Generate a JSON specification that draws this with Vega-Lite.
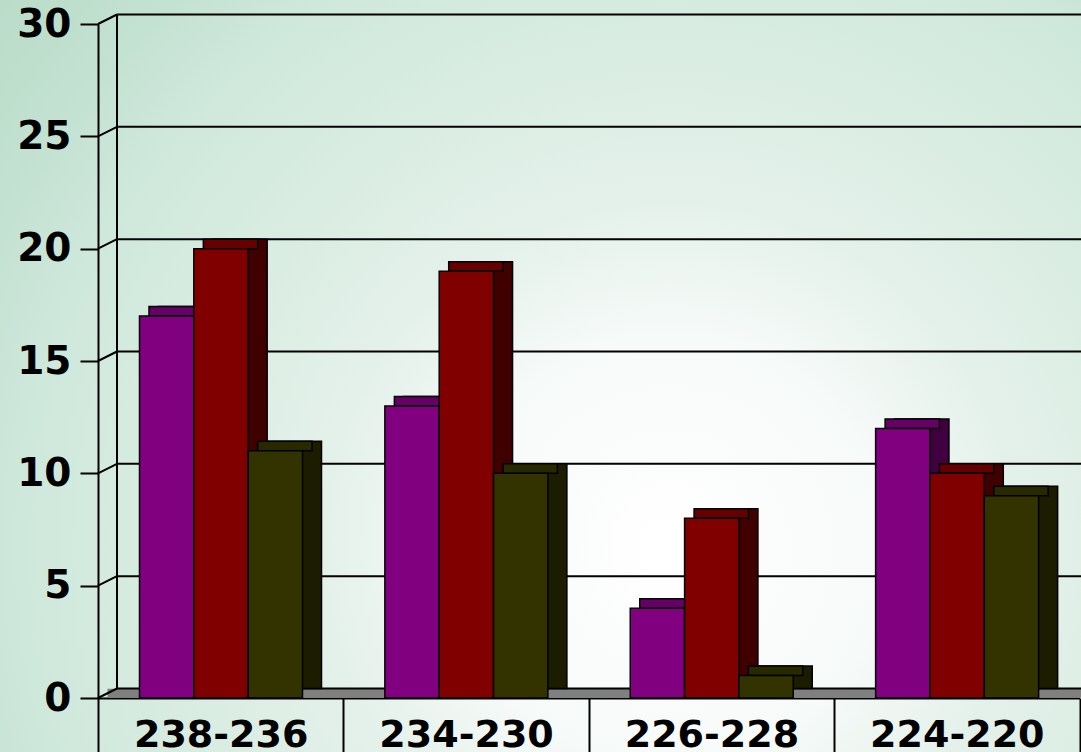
{
  "$schema": "https://vega.github.io/schema/vega-lite/v6.json",
  "width": 1081,
  "height": 752,
  "autosize": "none",
  "padding": 0,
  "background": "#d5eadf",
  "config": {
    "view": {
      "stroke": null,
      "fill": {
        "gradient": "radial",
        "x1": 0.62, "y1": 0.66, "r1": 0,
        "x2": 0.62, "y2": 0.66, "r2": 0.8,
        "stops": [
          {"offset": 0, "color": "#ffffff"},
          {"offset": 0.25, "color": "#f6faf8"},
          {"offset": 0.4, "color": "#e4f1ea"},
          {"offset": 0.6, "color": "#d8ece1"},
          {"offset": 0.75, "color": "#cfe8dc"},
          {"offset": 0.85, "color": "#c4e2d2"},
          {"offset": 1, "color": "#badcc8"}
        ]
      }
    }
  },
  "datasets": {
    "bars": [
      {"cat": "238-236", "series": "A", "value": 17},
      {"cat": "238-236", "series": "B", "value": 20},
      {"cat": "238-236", "series": "C", "value": 11},
      {"cat": "234-230", "series": "A", "value": 13},
      {"cat": "234-230", "series": "B", "value": 19},
      {"cat": "234-230", "series": "C", "value": 10},
      {"cat": "226-228", "series": "A", "value": 4},
      {"cat": "226-228", "series": "B", "value": 8},
      {"cat": "226-228", "series": "C", "value": 1},
      {"cat": "224-220", "series": "A", "value": 12},
      {"cat": "224-220", "series": "B", "value": 10},
      {"cat": "224-220", "series": "C", "value": 9}
    ],
    "grid": [
      {"v": 0}, {"v": 5}, {"v": 10}, {"v": 15}, {"v": 20}, {"v": 25}, {"v": 30}
    ],
    "one": [{"k": 1}]
  },
  "layer": [
    {
      "data": {"name": "one"},
      "mark": {"type": "rule", "color": "#808080", "strokeWidth": 9, "yOffset": -4.75, "xOffset": 9.5, "x2Offset": 19},
      "encoding": {
        "x": {"datum": "238-236", "type": "nominal", "bandPosition": 0,
              "scale": {"domain": ["238-236", "234-230", "226-228", "224-220"], "range": [98, 1079.5], "paddingInner": 0, "paddingOuter": 0},
              "axis": {"orient": "bottom", "offset": -54, "title": null, "domainColor": "#000000", "domainWidth": 2,
                       "tickBand": "extent", "tickSize": 54, "tickColor": "#000000", "tickWidth": 2,
                       "labelFont": "DejaVu Sans", "labelFontWeight": "bold", "labelFontSize": 38, "labelColor": "#000000",
                       "labelPadding": -6, "labelBaseline": "alphabetic", "labelAngle": 0}},
        "x2": {"datum": "224-220", "bandPosition": 1},
        "y": {"datum": 0, "type": "quantitative", "scale": {"domain": [0, 30], "range": [698, 24], "nice": false, "zero": true},
              "axis": {"orient": "left", "offset": -98, "values": [0, 5, 10, 15, 20, 25, 30], "title": null, "grid": false,
                       "domainColor": "#000000", "domainWidth": 2, "tickColor": "#000000", "tickWidth": 2, "tickSize": 18,
                       "labelFont": "DejaVu Sans", "labelFontWeight": "bold", "labelFontSize": 39, "labelColor": "#000000", "labelPadding": 9}}
      }
    },
    {
      "data": {"name": "grid"},
      "mark": {"type": "rule", "color": "#000000", "strokeWidth": 2, "yOffset": -9.5, "xOffset": 19, "x2Offset": 19},
      "encoding": {
        "x": {"datum": "238-236", "type": "nominal", "bandPosition": 0},
        "x2": {"datum": "224-220", "bandPosition": 1},
        "y": {"field": "v", "type": "quantitative"}
      }
    },
    {
      "data": {"name": "grid"},
      "mark": {"type": "rule", "color": "#000000", "strokeWidth": 2, "x2Offset": 19, "y2Offset": -9.5},
      "encoding": {
        "x": {"datum": "238-236", "type": "nominal", "bandPosition": 0},
        "x2": {"datum": "238-236", "bandPosition": 0},
        "y": {"field": "v", "type": "quantitative"},
        "y2": {"field": "v"}
      }
    },
    {
      "data": {"name": "one"},
      "mark": {"type": "rule", "color": "#000000", "strokeWidth": 2, "xOffset": 19, "yOffset": -9.5, "y2Offset": -9.5},
      "encoding": {
        "x": {"datum": "238-236", "type": "nominal", "bandPosition": 0},
        "y": {"datum": 0, "type": "quantitative"},
        "y2": {"datum": 30}
      }
    },
    {
      "data": {"name": "bars"},
      "mark": {"type": "bar", "stroke": "#000000", "strokeWidth": 1.5, "yOffset": -9.5, "y2Offset": -9.5},
      "encoding": {
        "x": {"field": "cat", "type": "nominal", "sort": null},
        "xOffset": {"field": "series", "type": "nominal", "scale": {"domain": ["A", "B", "C"], "range": [60.5, 223.5], "paddingInner": 0, "paddingOuter": 0}},
        "y": {"field": "value", "type": "quantitative"},
        "y2": {"datum": 0},
        "color": {"field": "series", "type": "nominal", "scale": {"domain": ["A", "B", "C"], "range": ["#400040", "#400000", "#1c1c00"]}, "legend": null}
      }
    },
    {
      "data": {"name": "bars"},
      "mark": {"type": "bar", "stroke": "#000000", "strokeWidth": 1.5, "yOffset": -9.5, "y2Offset": 0},
      "encoding": {
        "x": {"field": "cat", "type": "nominal", "sort": null},
        "xOffset": {"field": "series", "type": "nominal", "scale": {"domain": ["A", "B", "C"], "range": [51, 214], "paddingInner": 0, "paddingOuter": 0}},
        "y": {"field": "value", "type": "quantitative"},
        "y2": {"field": "value"},
        "color": {"field": "series", "type": "nominal", "scale": {"domain": ["A", "B", "C"], "range": ["#660066", "#660000", "#292900"]}, "legend": null}
      }
    },
    {
      "data": {"name": "bars"},
      "mark": {"type": "bar", "stroke": "#000000", "strokeWidth": 1.5},
      "encoding": {
        "x": {"field": "cat", "type": "nominal", "sort": null},
        "xOffset": {"field": "series", "type": "nominal", "scale": {"domain": ["A", "B", "C"], "range": [41.5, 204.5], "paddingInner": 0, "paddingOuter": 0}},
        "y": {"field": "value", "type": "quantitative"},
        "y2": {"datum": 0},
        "color": {"field": "series", "type": "nominal", "scale": {"domain": ["A", "B", "C"], "range": ["#800080", "#800000", "#333300"]}, "legend": null}
      }
    }
  ],
  "resolve": {"scale": {"xOffset": "independent", "color": "independent"}}
}
